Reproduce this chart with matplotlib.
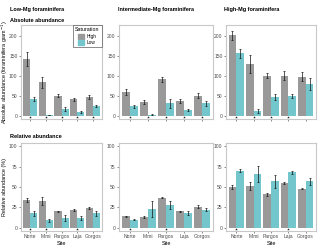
import numpy as np
import matplotlib
matplotlib.use("Agg")
from matplotlib import pyplot as plt
from matplotlib.patches import Patch

plt.rcParams["font.family"] = ["Liberation Sans", "DejaVu Sans"]

sites = ["Norte", "Mimi", "Pargos", "Laja", "Gorgos"]
groups = ["Low-Mg foraminifera", "Intermediate-Mg foraminifera", "High-Mg foraminifera"]

# absolute abundance (foraminifera per gram)
abs_high = [[142, 84, 50, 41, 48], [60, 35, 92, 38, 51], [202, 130, 101, 101, 98]]
abs_high_err = [[18, 14, 4, 3, 5], [7, 5, 6, 5, 6], [12, 22, 7, 11, 11]]
abs_low = [[42, 2, 16, 9, 24], [24, 3, 31, 14, 31], [157, 11, 48, 50, 79]]
abs_low_err = [[6, 1, 5, 3, 3], [4, 2, 12, 2, 6], [12, 5, 8, 5, 15]]
abs_sig = [[1, 1, 1, 1, 1], [1, 1, 1, 1, 1], [1, 1, 1, 1, 0]]

# relative abundance (%)
rel_high = [[34, 33, 20, 22, 24], [14, 13, 37, 20, 26], [50, 51, 41, 55, 48]]
rel_high_err = [[3, 5, 1, 1, 1], [1, 1, 1, 1, 2], [3, 5, 2, 1, 1]]
rel_low = [[18, 9, 12, 12, 18], [10, 23, 28, 18, 22], [70, 66, 57, 68, 57]]
rel_low_err = [[3, 2, 4, 2, 3], [1, 10, 5, 2, 2], [2, 10, 8, 2, 4]]
rel_sig = [[1, 1, 0, 1, 0], [1, 0, 1, 0, 0], [1, 0, 0, 1, 0]]

col_high = "#999999"
col_low = "#74C6CD"
W, H = 320, 248


def px_rect(x0, y0, x1, y1):
    return [x0 / W, 1 - y1 / H, (x1 - x0) / W, (y1 - y0) / H]


def draw_panel(ax, high, high_err, low, low_err, sig, ylim, yticks, star_y):
    x = np.arange(1, len(sites) + 1)
    bw = 0.45
    ax.bar(x - bw / 2, high, width=bw, color=col_high)
    ax.bar(x + bw / 2, low, width=bw, color=col_low)
    ax.errorbar(x - bw / 2, high, yerr=high_err, fmt="none", ecolor="#111111",
                elinewidth=0.5, capsize=0.8, capthick=0.5)
    ax.errorbar(x + bw / 2, low, yerr=low_err, fmt="none", ecolor="#111111",
                elinewidth=0.5, capsize=0.8, capthick=0.5)
    xs = [xi for xi, s in zip(x, sig) if s]
    ax.scatter(xs, [star_y] * len(xs), marker="*", s=4, color="#222222",
               linewidths=0, zorder=5)
    ax.set_xlim(0.4, 5.6)
    ax.set_ylim(*ylim)
    ax.set_yticks(yticks)
    ax.set_xticks(x)
    ax.tick_params(length=1.5, width=0.4, color="#333333", labelsize=3.6,
                   labelcolor="#4d4d4d", pad=1)
    for sp in ax.spines.values():
        sp.set_color("#c8c8c8")
        sp.set_linewidth(0.8)


fig = plt.figure(figsize=(3.2, 2.48), dpi=100)

cols = [(21, 102), (119, 213), (226, 316)]
title_x = [10, 118, 224]
for i in range(3):
    x0, x1 = cols[i]
    ax = fig.add_axes(px_rect(x0, 25, x1, 119))
    draw_panel(ax, abs_high[i], abs_high_err[i], abs_low[i], abs_low_err[i],
               abs_sig[i], (-8, 228), [0, 50, 100, 150, 200], -3)
    ax.set_xticklabels([])
    if i == 0:
        leg = ax.legend(handles=[Patch(color=col_high, label="High"),
                                 Patch(color=col_low, label="Low")],
                        title="Saturation", loc="upper right", fontsize=3.4,
                        title_fontsize=3.8, frameon=True, fancybox=False,
                        handlelength=1.2, handleheight=1.2, borderpad=0.4,
                        labelspacing=0.3, handletextpad=0.5, borderaxespad=0.1)
        leg.get_frame().set_edgecolor("#555555")
        leg.get_frame().set_linewidth(0.6)

    axb = fig.add_axes(px_rect(x0, 143, x1, 231))
    draw_panel(axb, rel_high[i], rel_high_err[i], rel_low[i], rel_low_err[i],
               rel_sig[i], (-4, 104), [0, 25, 50, 75, 100], -1.5)
    axb.set_xticklabels(sites)
    axb.set_xlabel("Site", fontsize=4, labelpad=1)

    fig.text(title_x[i] / W, 1 - 9 / H, groups[i], fontsize=4, fontweight="bold",
             ha="left", va="center")

fig.text(5 / W, 1 - 72 / H, "Absolute abundance (foraminifera gram$^{-1}$)",
         fontsize=3.9, rotation=90, ha="center", va="center")
fig.text(5 / W, 1 - 187 / H, "Relative abundance (%)",
         fontsize=3.9, rotation=90, ha="center", va="center")
fig.text(10 / W, 1 - 20 / H, "Absolute abundance", fontsize=4, fontweight="bold",
         ha="left", va="center")
fig.text(10 / W, 1 - 137 / H, "Relative abundance", fontsize=4, fontweight="bold",
         ha="left", va="center")

plt.savefig("out.png", dpi=100)
